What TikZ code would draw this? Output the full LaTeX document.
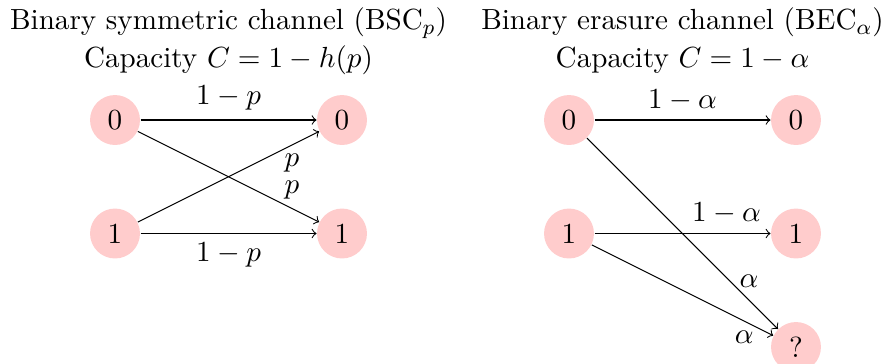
\documentclass[tikz,border=0pt]{standalone}
\begin{document}
\begin{tikzpicture}[
  every node/.style={font=\fontsize{10.95}{13.6}\selectfont},
  state/.style={circle,fill=red!20,minimum size=0.66cm,inner sep=0pt},
  conn/.style={->}
]
\useasboundingbox (-1.52,-3.224) rectangle (10.15,1.586);
% BSC
\node[anchor=base] (t1) at (1.5,1.19) {Binary symmetric channel (BSC$_p$)};
\node[anchor=base] (c1) at (1.5,0.69) {Capacity $C = 1 - h(p)$};
\node[state] (a0) at (0,0) {0};
\node[state] (a1) at (0,-1.5) {1};
\node[state] (b0) at (3,0) {0};
\node[state] (b1) at (3,-1.5) {1};
\draw[conn] (a0) -- node[above] {$1-p$} (b0);
\draw[conn] (a1) -- node[below] {$1-p$} (b1);
\draw[conn] (a1) -- node[pos=0.85,below] {$p$} (b0);
\draw[conn] (a0) -- node[pos=0.85,above] {$p$} (b1);
% BEC
\node[anchor=base] (t2) at (7.5,1.19) {Binary erasure channel (BEC$_\alpha$)};
\node[anchor=base] (c2) at (7.5,0.69) {Capacity $C = 1 - \alpha$};
\node[state] (e0) at (6,0) {0};
\node[state] (e1) at (6,-1.5) {1};
\node[state] (f0) at (9,0) {0};
\node[state] (f1) at (9,-1.5) {1};
\node[state] (fq) at (9,-3) {?};
\draw[conn] (e0) -- node[above] {$1-\alpha$} (f0);
\draw[conn] (e1) -- node[pos=0.75,above] {$1-\alpha$} (f1);
\draw[conn] (e0) -- node[pos=0.75,right] {$\alpha$} (fq);
\draw[conn] (e1) -- node[pos=0.84,below] {$\alpha$} (fq);
\end{tikzpicture}
\end{document}
